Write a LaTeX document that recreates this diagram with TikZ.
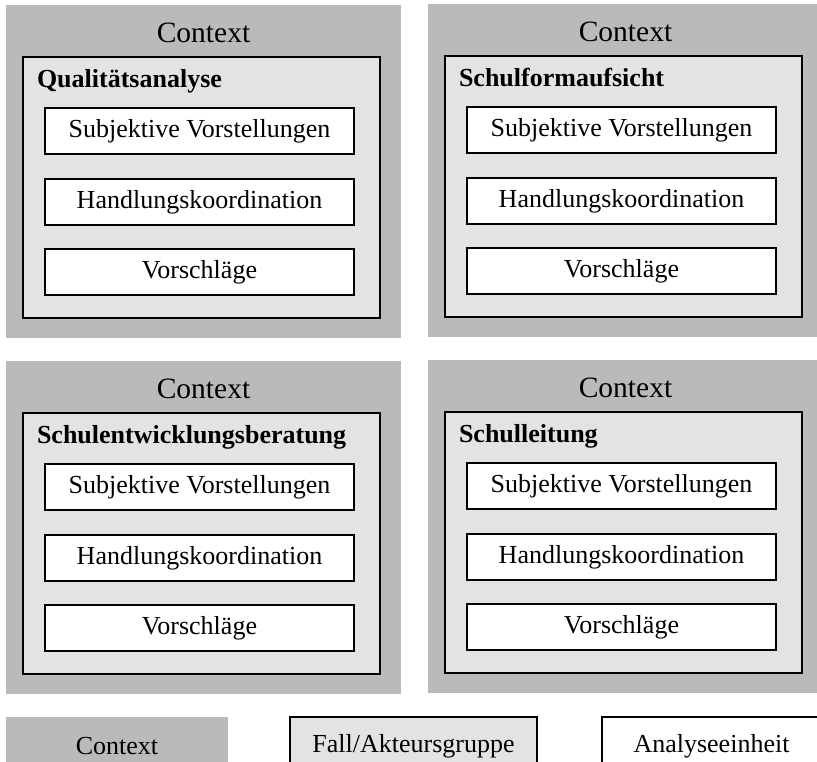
\documentclass[tikz,border=0pt]{standalone}
\usepackage{fontspec}
\setmainfont{Liberation Serif}
\usetikzlibrary{positioning}
\definecolor{ctxgray}{RGB}{186,186,186}
\definecolor{fallgray}{RGB}{227,227,227}

\begin{document}
\begin{tikzpicture}[x=1pt, y=1pt,
  every node/.style={font=\fontsize{26}{30}\selectfont, inner sep=0pt, outer sep=0pt},
  ctxbox/.style={fill=ctxgray, anchor=north west, minimum width=395pt, minimum height=333pt},
  ctxlabel/.style={font=\fontsize{29.5}{32}\selectfont, anchor=base},
  fallbox/.style={draw, line width=1.2pt, fill=fallgray, anchor=north west, minimum width=357pt, minimum height=261pt},
  falltitle/.style={font=\fontsize{26}{30}\selectfont\bfseries, anchor=base west},
  unitbox/.style={draw, line width=1.2pt, fill=white, anchor=north west, minimum width=309pt, minimum height=46pt}]
  \useasboundingbox (0,0) rectangle (817,-761);
  \clip (0,0) rectangle (817,-761);
  % vier Fälle: Context > Fall/Akteursgruppe > Analyseeinheiten
  \foreach \p/\x/\y/\fall in {qa/6/-5/Qualitätsanalyse, sfa/428/-4/Schulformaufsicht,
                              seb/6/-361/Schulentwicklungsberatung, sl/428/-360/Schulleitung}{
    \node[ctxbox] (ctx-\p) at (\x,\y) {};
    \node[ctxlabel] (lbl-\p) at ([yshift=-37pt]ctx-\p.north) {Context};
    \node[fallbox] (fall-\p) at ([xshift=17pt,yshift=-52pt]ctx-\p.north west) {};
    \node[falltitle] (title-\p) at ([xshift=14pt,yshift=-30pt]fall-\p.north west) {\fall};
    \foreach \u/\txt/\dy in {1/Subjektive Vorstellungen/51pt, 2/Handlungskoordination/122pt, 3/Vorschläge/192pt}
      \node[unitbox] (unit-\p-\u) at ([xshift=22pt,yshift=-\dy]fall-\p.north west) {\txt};
  }
  % Legende
  \node[ctxbox, minimum width=222pt, minimum height=58pt] (leg-ctx) at (6,-717) {Context};
  \node[fallbox, minimum width=247pt, minimum height=58pt] (leg-fall) at (290,-717) {Fall/Akteursgruppe};
  \node[unitbox, minimum width=219pt, minimum height=58pt] (leg-unit) at (602,-717) {Analyseeinheit};
\end{tikzpicture}
\end{document}
